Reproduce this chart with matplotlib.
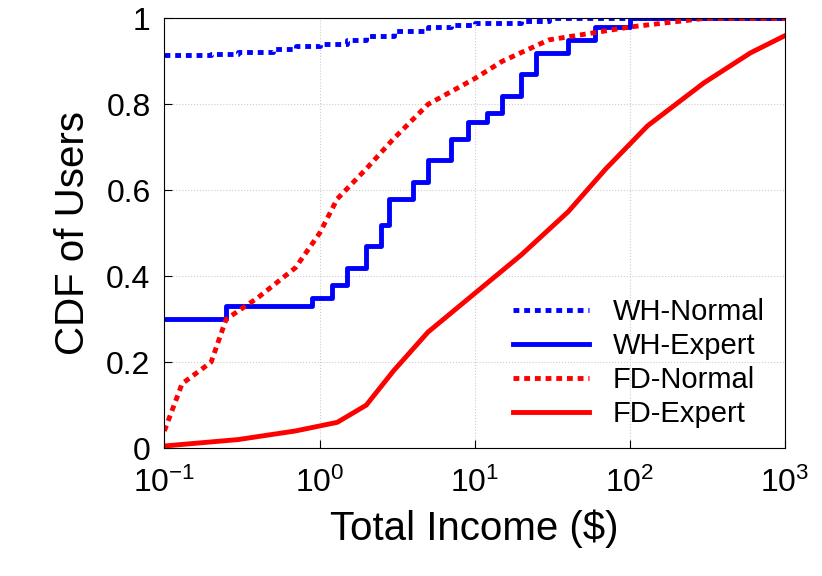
import matplotlib
matplotlib.use("Agg")
import matplotlib.pyplot as plt

wh_n_x = [0.1, 0.2, 0.3, 0.5, 0.7, 1, 1.5, 2, 3, 5, 7, 10, 20, 30, 1000]
wh_n_y = [0.915, 0.918, 0.922, 0.93, 0.935, 0.94, 0.95, 0.96, 0.97, 0.98, 0.985, 0.99, 0.995, 1.0, 1.0]
wh_e_x = [0.1, 0.25, 0.8, 0.9, 1.2, 1.5, 2, 2.5, 2.8, 4, 5, 7, 9, 12, 15, 20, 25, 40, 60, 100, 1000]
wh_e_y = [0.30, 0.33, 0.33, 0.35, 0.38, 0.42, 0.47, 0.52, 0.58, 0.62, 0.67, 0.72, 0.76, 0.78, 0.82, 0.87, 0.92, 0.95, 0.98, 1.0, 1.0]
fd_n_x = [0.1, 0.13, 0.2, 0.25, 0.4, 0.7, 1.0, 1.3, 2, 3, 5, 10, 15, 30, 100, 300, 1000]
fd_n_y = [0.04, 0.15, 0.2, 0.3, 0.35, 0.42, 0.5, 0.58, 0.65, 0.72, 0.8, 0.86, 0.9, 0.95, 0.98, 1.0, 1.0]
fd_e_x = [0.1, 0.3, 0.7, 1.3, 2, 3, 5, 10, 20, 40, 70, 130, 300, 600, 1000]
fd_e_y = [0.005, 0.02, 0.04, 0.06, 0.1, 0.18, 0.27, 0.36, 0.45, 0.55, 0.65, 0.75, 0.85, 0.92, 0.96]

plt.rcParams["font.family"] = "Liberation Sans"
fig = plt.figure(figsize=(8.22, 5.76), dpi=100)
ax = fig.add_axes([0.2, 0.222, 0.755, 0.746])
dash = (0, (1.2, 1.0))
ax.step(wh_n_x, wh_n_y, where="post", color="#0000ff", lw=3.5, ls=dash, label="WH-Normal")
ax.step(wh_e_x, wh_e_y, where="post", color="#0000ff", lw=3.5, label="WH-Expert")
ax.plot(fd_n_x, fd_n_y, color="#ff0000", lw=3.5, ls=dash, label="FD-Normal")
ax.plot(fd_e_x, fd_e_y, color="#ff0000", lw=3.5, label="FD-Expert")
ax.set_xscale("log")
ax.set_xlim(0.1, 1000)
ax.set_ylim(0, 1)
ax.set_yticks([0, 0.2, 0.4, 0.6, 0.8, 1])
ax.set_yticklabels(["0", "0.2", "0.4", "0.6", "0.8", "1"])
ax.minorticks_off()
ax.grid(True, color="#cccccc", ls=":", lw=0.8)
ax.tick_params(labelsize=23, direction="in", length=6)
ax.tick_params(axis="x", pad=14)
ax.tick_params(axis="y", pad=10)
ax.set_xlabel("Total Income ($)", fontsize=29, labelpad=8)
ax.set_ylabel("CDF of Users", fontsize=29, labelpad=10)
ax.legend(loc="lower right", fontsize=21, frameon=False, handlelength=2.6, borderaxespad=0.3, labelspacing=0.2)
fig.savefig("out.png", dpi=100)
